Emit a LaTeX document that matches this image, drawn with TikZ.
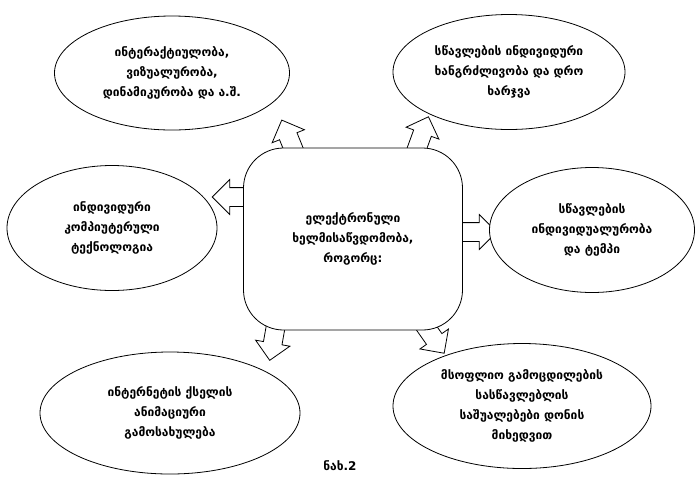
\documentclass[tikz,border=0pt]{standalone}
\usepackage{fontspec}
\newfontfamily\geo{DejaVu Sans}
\usetikzlibrary{shapes.geometric,shapes.arrows}
\tikzset{
    every node/.style={font=\geo\bfseries\fontsize{12}{20}\selectfont, align=center}
}
\tikzset{
    bubble/.style={ellipse, draw, fill=white, inner sep=0pt, line width=0.8pt}
}
\tikzset{
    blockarrow/.style={single arrow, draw, fill=white, line width=0.8pt,
    	minimum height=40pt, inner xsep=0pt, inner ysep=9pt,
    	single arrow head extend=8pt, single arrow head indent=0pt}
}

\begin{document}
\begin{tikzpicture}[x=1pt,y=-1pt]
	\useasboundingbox (0,0) rectangle (695,483);
	\node (a1) [blockarrow, rotate=112] at (291,143) {};
	\node (a2) [blockarrow, rotate=70] at (420,140) {};
	\node (a3) [blockarrow, rotate=180] at (237,197) {};
	\node (a4) [blockarrow, rotate=0] at (472,232) {};
	\node (a5) [blockarrow, rotate=-100] at (274,336) {};
	\node (a6) [blockarrow, rotate=-55] at (430,333) {};

	\node (tl) [bubble, minimum width=235pt, minimum height=114pt] at (172,73)
		{ინტერაქტიულობა,\\ვიზუალურობა,\\დინამიკურობა და ა.შ.};
	\node (tr) [bubble, minimum width=232pt, minimum height=115pt] at (509,72)
		{სწავლების ინდივიდური\\ხანგრძლივობა და დრო\\ხარჯვა};
	\node (lf) [bubble, minimum width=210pt, minimum height=125pt] at (112,228)
		{ინდივიდური\\კომპიუტერული\\ტექნოლოგია};
	\node (rt) [bubble, minimum width=205pt, minimum height=125pt] at (592,230)
		{სწავლების\\ინდივიდუალურობა\\და ტემპი};
	\node (bl) [bubble, minimum width=260pt, minimum height=122pt] at (170,413)
		{ინტერნეტის ქსელის\\ანიმაციური\\გამოსახულება};
	\node (br) [bubble, minimum width=258pt, minimum height=125pt] at (522,406)
		{მსოფლიო გამოცდილების\\სასწავლებლის\\საშუალებები დონის\\მიხედვით};
	\node (c) [draw, fill=white, rounded corners=40pt, line width=0.8pt,
		minimum width=219pt, minimum height=182pt] at (353,239)
		{ელექტრონული\\ხელმისაწვდომობა,\\როგორც:};

	\node (cap) [font=\geo\bfseries\fontsize{12}{14}\selectfont] at (340,466) {ნახ.2};
\end{tikzpicture}
\end{document}
